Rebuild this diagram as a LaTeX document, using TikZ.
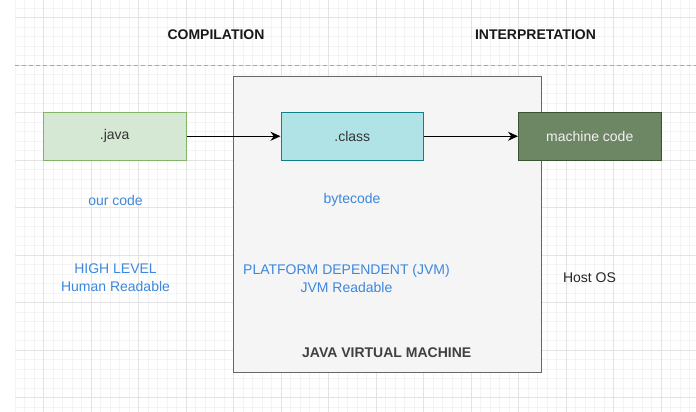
\documentclass[tikz,border=0pt]{standalone}
\usepackage{fontspec}
\setmainfont{Liberation Sans}
\usetikzlibrary{arrows.meta,positioning}

\definecolor{gridminor}{HTML}{F4F4F4}
\definecolor{gridmajor}{HTML}{E3E3E3}
\definecolor{noteblue}{HTML}{3D87DE}
\definecolor{javafill}{HTML}{D5E8D4}
\definecolor{javaline}{HTML}{82B366}
\definecolor{classfill}{HTML}{B0E3E6}
\definecolor{classline}{HTML}{0E8088}
\definecolor{mcfill}{HTML}{6D8764}
\definecolor{mcline}{HTML}{3A5431}
\definecolor{jvmfill}{HTML}{F5F5F5}
\definecolor{jvmline}{HTML}{666666}

\tikzset{
  stage/.style={draw,line width=1pt,minimum width=142.5pt,minimum height=47.5pt,
    inner sep=0pt,text=black!80,font=\fontsize{14}{17}\selectfont},
  note/.style={text=noteblue,align=center,inner sep=0pt,font=\fontsize{14}{18}\selectfont},
  heading/.style={text=black!90,inner sep=0pt,font=\bfseries\fontsize{14}{17}\selectfont},
  flow/.style={-{Stealth[length=10pt,width=9pt]},line width=1.1pt,black}
}

\begin{document}
\begin{tikzpicture}[x=1pt,y=-1pt]

\useasboundingbox[fill=white] (0,0) rectangle (696,412);

% grille de fond
\foreach \x in {15,24.5,...,696} \draw[gridminor,line width=0.6pt] (\x,0) -- (\x,412);
\foreach \y in {8,17.5,...,412} \draw[gridminor,line width=0.6pt] (15,\y) -- (696,\y);
\foreach \x in {43.5,91,...,696} \draw[gridmajor,line width=0.8pt] (\x,0) -- (\x,412);
\foreach \y in {17.5,65,...,412} \draw[gridmajor,line width=0.8pt] (15,\y) -- (696,\y);

% titres et séparation
\node[heading] (compil) at (216,34.5) {COMPILATION};
\node[heading] (interp) at (535.5,34.5) {INTERPRETATION};
\draw[black!35,line width=0.8pt,dash pattern=on 4pt off 3pt] (15,65) -- (696,65);

% machine virtuelle
\node[draw=jvmline,fill=jvmfill,line width=1pt,minimum width=308pt,minimum height=296pt,
  inner sep=0pt] (jvm) at (387.5,224.75) {};
\node[heading,text=black!75] (jvmname) at (386.7,352.5) {JAVA VIRTUAL MACHINE};

% étapes
\node[stage,draw=javaline,fill=javafill] (java) at (114.75,136.25) {.java};
\node[stage,draw=classline,fill=classfill] (class) at (352.25,136.25) {.class};
\node[stage,draw=mcline,fill=mcfill,text=white!95!black] (mcode) at (589.75,136.25) {machine code};

\draw[flow] (java) -- (class);
\draw[flow] (class) -- (mcode);

% annotations
\node[note] (ourcode) at (115.5,200) {our code};
\node[note] (bytecode) at (352,200) {bytecode};
\node[note] (highlvl) at (115.5,278) {HIGH LEVEL\\Human Readable};
\node[note] (platform) at (346.5,278) {PLATFORM DEPENDENT (JVM)\\JVM Readable};
\node[heading,font=\fontsize{14}{17}\selectfont,text=black!85] (hostos) at (589.5,277.5) {Host OS};

\end{tikzpicture}
\end{document}
